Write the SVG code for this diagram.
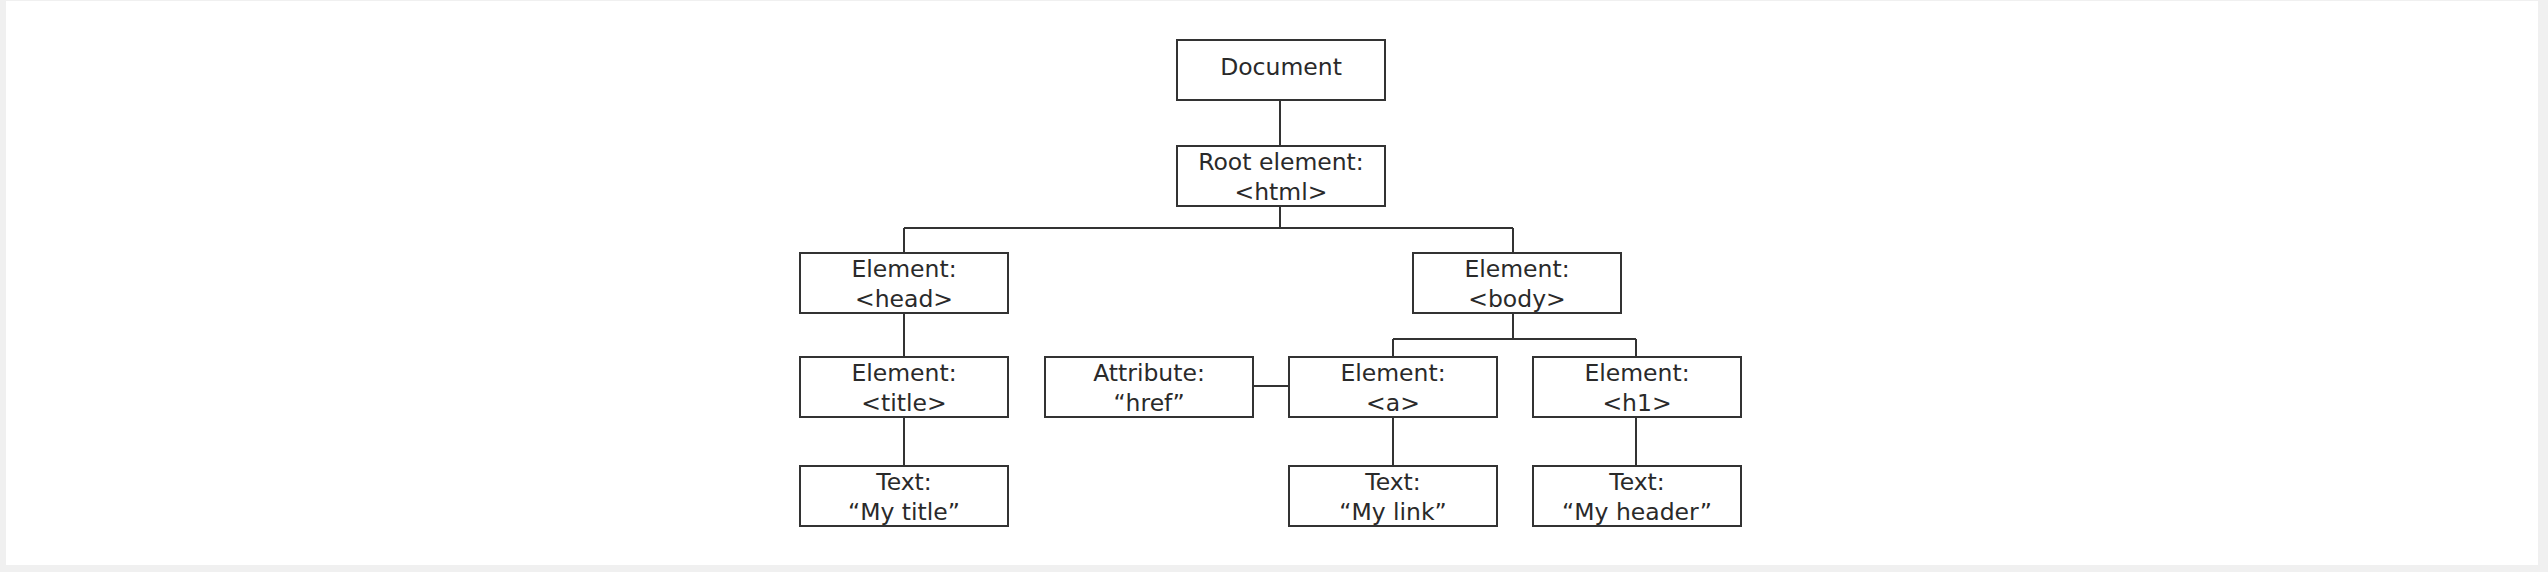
<svg xmlns="http://www.w3.org/2000/svg" width="2548" height="572" viewBox="0 0 2548 572">
<style>
.box{fill:#fff;stroke:#333;stroke-width:2}
.ln{fill:none;stroke:#333;stroke-width:2}
text{font-family:"DejaVu Sans",Verdana,sans-serif;font-size:23.5px;fill:#2a2a2a;text-anchor:middle}
</style>
<rect x="0" y="0" width="2548" height="572" fill="#f0f0f0"/>
<rect x="6" y="1" width="2532" height="564" fill="#fff"/>
<g id="connectors">
<path class="ln" d="M1280 100V146"/>
<path class="ln" d="M1280 206V228M904 228H1513M904 228V253M1513 228V253"/>
<path class="ln" d="M904 313V357M904 417V466"/>
<path class="ln" d="M1513 313V339M1393 339H1636M1393 339V357M1636 339V357"/>
<path class="ln" d="M1253 386H1289"/>
<path class="ln" d="M1393 417V466M1636 417V466"/>
</g>
<g id="document"><rect class="box" x="1177" y="40" width="208" height="60"/><text x="1281" y="75">Document</text></g>
<g id="root"><rect class="box" x="1177" y="146" width="208" height="60"/><text x="1281" y="170">Root element:</text><text x="1281" y="200">&lt;html&gt;</text></g>
<g id="head"><rect class="box" x="800" y="253" width="208" height="60"/><text x="904" y="277">Element:</text><text x="904" y="307">&lt;head&gt;</text></g>
<g id="body"><rect class="box" x="1413" y="253" width="208" height="60"/><text x="1517" y="277">Element:</text><text x="1517" y="307">&lt;body&gt;</text></g>
<g id="title"><rect class="box" x="800" y="357" width="208" height="60"/><text x="904" y="381">Element:</text><text x="904" y="411">&lt;title&gt;</text></g>
<g id="attr"><rect class="box" x="1045" y="357" width="208" height="60"/><text x="1149" y="381">Attribute:</text><text x="1149" y="411">“href”</text></g>
<g id="a"><rect class="box" x="1289" y="357" width="208" height="60"/><text x="1393" y="381">Element:</text><text x="1393" y="411">&lt;a&gt;</text></g>
<g id="h1"><rect class="box" x="1533" y="357" width="208" height="60"/><text x="1637" y="381">Element:</text><text x="1637" y="411">&lt;h1&gt;</text></g>
<g id="text-title"><rect class="box" x="800" y="466" width="208" height="60"/><text x="904" y="490">Text:</text><text x="904" y="520">“My title”</text></g>
<g id="text-link"><rect class="box" x="1289" y="466" width="208" height="60"/><text x="1393" y="490">Text:</text><text x="1393" y="520">“My link”</text></g>
<g id="text-header"><rect class="box" x="1533" y="466" width="208" height="60"/><text x="1637" y="490">Text:</text><text x="1637" y="520">“My header”</text></g>
</svg>
